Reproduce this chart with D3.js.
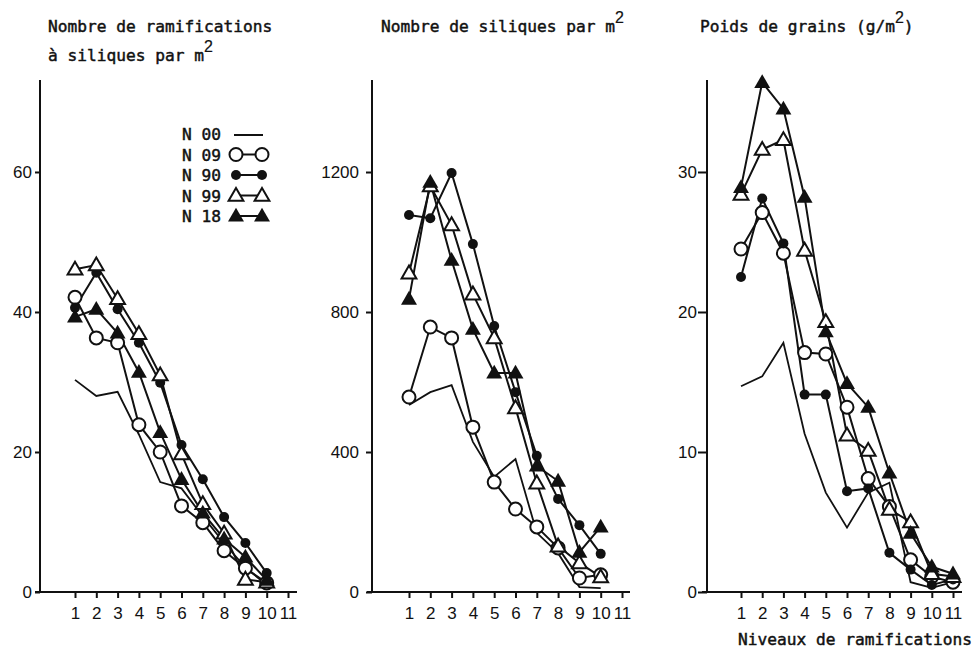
<!DOCTYPE html>
<html>
<head>
<meta charset="utf-8">
<script src="https://cdn.jsdelivr.net/npm/d3@7"></script>
<style>
  body { margin: 0; background: #fff; }
  svg { display: block; }
  .title { font-family: "DejaVu Sans Mono", "Liberation Mono", monospace; font-size: 16.2px; fill: #111; stroke: #111; stroke-width: 0.45px; }
  .axis text { font-family: "Liberation Sans", "DejaVu Sans", sans-serif; font-size: 17px; fill: #111; }
  .axis path, .axis line { stroke: #111; stroke-width: 2; }
</style>
</head>
<body>
<div id="chart"></div>
<script>
// Niveaux de ramifications (x values)
var levels10 = [1, 2, 3, 4, 5, 6, 7, 8, 9, 10];
var levels11 = [1, 2, 3, 4, 5, 6, 7, 8, 9, 10, 11];
var xTicks = [1, 2, 3, 4, 5, 6, 7, 8, 9, 10, 11];

var seriesNames = ["N 00", "N 09", "N 90", "N 99", "N 18"];

// Panel 1 : nombre de ramifications a siliques par m2
var ram_n00 = [30.3, 28, 28.6, 22.5, 15.7, 14.8, 10.8, 7, 3.5, 1];
var ram_n09 = [42.1, 36.3, 35.6, 23.9, 20, 12.3, 9.9, 5.9, 3.4, 1.3];
var ram_n90 = [40.6, 45.6, 40.4, 35.6, 29.9, 21, 16.1, 10.7, 7, 2.7];
var ram_n99 = [46.1, 46.7, 41.9, 36.9, 31, 19.7, 12.6, 8.4, 1.8, 1.4];
var ram_n18 = [39.3, 40.4, 37, 31.4, 22.8, 16.1, 11.3, 7.6, 5, 1.7];
var ramTicks = [0, 20, 40, 60];

// Panel 2 : nombre de siliques par m2
var sil_n00 = [534, 571, 591, 429, 329, 380, 169, 111, 14, 11];
var sil_n09 = [557, 757, 726, 471, 314, 237, 186, 126, 40, 49];
var sil_n90 = [1077, 1068, 1197, 994, 760, 571, 389, 266, 191, 109];
var sil_n99 = [911, 1160, 1049, 851, 726, 526, 311, 131, 83, 43];
var sil_n18 = [837, 1171, 948, 751, 626, 626, 360, 317, 114, 186];
var silTicks = [0, 400, 800, 1200];

// Panel 3 : poids de grains (g/m2)
var gr_n00 = [14.7, 15.4, 17.8, 11.3, 7.1, 4.6, 7.1, 7.8, 0.7, 0.3, 0.7];
var gr_n09 = [24.5, 27.1, 24.2, 17.1, 17, 13.2, 8.1, 6.1, 2.3, 1.1, 0.7];
var gr_n90 = [22.5, 28.1, 24.9, 14.1, 14.1, 7.2, 7.4, 2.8, 1.6, 0.5, 0.9];
var gr_n99 = [28.4, 31.6, 32.3, 24.4, 19.3, 11.2, 10.1, 5.9, 5, 1.3, 1.1];
var gr_n18 = [28.9, 36.4, 34.5, 28.2, 18.6, 14.9, 13.2, 8.5, 4.2, 1.8, 1.3];
var grTicks = [0, 10, 20, 30];

var width = 972, height = 653;

var svg = d3.select("#chart").append("svg")
    .attr("width", width)
    .attr("height", height);

// marker type for each series
var markers = ["none", "openCircle", "dot", "openTriangle", "triangle"];

function drawMarker(g, type, cx, cy) {
    if (type == "openCircle") {
        g.append("circle").attr("cx", cx).attr("cy", cy).attr("r", 6.5)
            .attr("fill", "#fff").attr("stroke", "#111").attr("stroke-width", 2);
    } else if (type == "dot") {
        g.append("circle").attr("cx", cx).attr("cy", cy).attr("r", 5)
            .attr("fill", "#111");
    } else if (type == "openTriangle") {
        g.append("path").attr("d", d3.symbol(d3.symbolTriangle, 95)())
            .attr("transform", "translate(" + cx + "," + (cy + 1) + ")")
            .attr("fill", "#fff").attr("stroke", "#111").attr("stroke-width", 2);
    } else if (type == "triangle") {
        g.append("path").attr("d", d3.symbol(d3.symbolTriangle, 110)())
            .attr("transform", "translate(" + cx + "," + (cy + 1) + ")")
            .attr("fill", "#111");
    }
}

function drawPanel(p) {
    var g = svg.append("g");

    var x = d3.scaleLinear().domain([1, 11]).range([p.x1, p.x1 + 10 * p.unit]);
    var y = d3.scaleLinear().domain([0, p.ymax]).range([592, 80]);

    // x axis, line starts a bit left of the y axis
    var xAxis = g.append("g")
        .attr("class", "axis")
        .attr("transform", "translate(0,592)")
        .call(d3.axisBottom(x).tickValues(xTicks).tickSize(6).tickSizeOuter(0).tickPadding(9));
    xAxis.select(".domain").remove();
    xAxis.append("line")
        .attr("x1", p.axisX - 5).attr("x2", p.xEnd)
        .attr("y1", 0).attr("y2", 0);

    var yAxis = g.append("g")
        .attr("class", "axis")
        .attr("transform", "translate(" + p.axisX + ",0)")
        .call(d3.axisLeft(y).tickValues(p.yTicks).tickFormat(d3.format("d"))
            .tickSize(p.tick).tickSizeOuter(0).tickPadding(p.pad));
    yAxis.select(".domain").remove();
    yAxis.append("line").attr("x1", 0).attr("x2", 0).attr("y1", 80).attr("y2", 592);

    var line = d3.line()
        .x(function(d) { return x(d[0]); })
        .y(function(d) { return y(d[1]); });

    // lines first
    p.series.forEach(function(vals, i) {
        var pts = p.levels.map(function(l, j) { return [l, vals[j]]; });
        g.append("path")
            .datum(pts)
            .attr("d", line)
            .attr("fill", "none")
            .attr("stroke", "#111")
            .attr("stroke-width", i == 0 ? 1.8 : 2);
    });

    // then the markers
    p.series.forEach(function(vals, i) {
        p.levels.forEach(function(l, j) {
            drawMarker(g, markers[i], x(l), y(vals[j]));
        });
    });

    // Title lines
    p.title.forEach(function(t, k) {
        var txt = g.append("text")
            .attr("class", "title")
            .attr("x", p.titleX)
            .attr("y", 32 + k * 29);
        txt.append("tspan").text(t[0]);
        if (t[1]) {
            txt.append("tspan").attr("dy", -9).style("font-family", "Liberation Sans, sans-serif")
                .style("font-size", "16px").style("stroke-width", "0.2px").text(t[1]);
            if (t[2]) txt.append("tspan").attr("dy", 9).text(t[2]);
        }
    });
}

drawPanel({
    x1: 75, unit: 21.3, axisX: 40, xEnd: 297, ymax: 73.14,
    yTicks: ramTicks, tick: 5, pad: 3,
    levels: levels10,
    series: [ram_n00, ram_n09, ram_n90, ram_n99, ram_n18],
    titleX: 48,
    title: [["Nombre de ramifications"], ["à siliques par m", "2"]]
});

drawPanel({
    x1: 409, unit: 21.3, axisX: 372, xEnd: 630, ymax: 1462.9,
    yTicks: silTicks, tick: 6, pad: 7,
    levels: levels10,
    series: [sil_n00, sil_n09, sil_n90, sil_n99, sil_n18],
    titleX: 381,
    title: [["Nombre de siliques par m", "2"]]
});

drawPanel({
    x1: 741, unit: 21.2, axisX: 707, xEnd: 962, ymax: 36.57,
    yTicks: grTicks, tick: 9, pad: 1,
    levels: levels11,
    series: [gr_n00, gr_n09, gr_n90, gr_n99, gr_n18],
    titleX: 700,
    title: [["Poids de grains (g/m", "2", ")"]]
});

// x axis label
svg.append("text")
    .attr("class", "title")
    .attr("x", 738)
    .attr("y", 645)
    .text("Niveaux de ramifications");

// Legend
var legend = svg.append("g");
seriesNames.forEach(function(name, i) {
    var ly = 134 + i * 20.5;
    legend.append("text")
        .attr("class", "title")
        .attr("x", 182)
        .attr("y", ly + 6)
        .text(name);
    legend.append("line")
        .attr("x1", 234).attr("x2", 263)
        .attr("y1", i == 0 ? ly + 1 : ly).attr("y2", i == 0 ? ly + 1 : ly)
        .attr("stroke", "#111").attr("stroke-width", 2);
    drawMarker(legend, markers[i], 236, ly);
    drawMarker(legend, markers[i], 262, ly);
});
</script>
</body>
</html>
